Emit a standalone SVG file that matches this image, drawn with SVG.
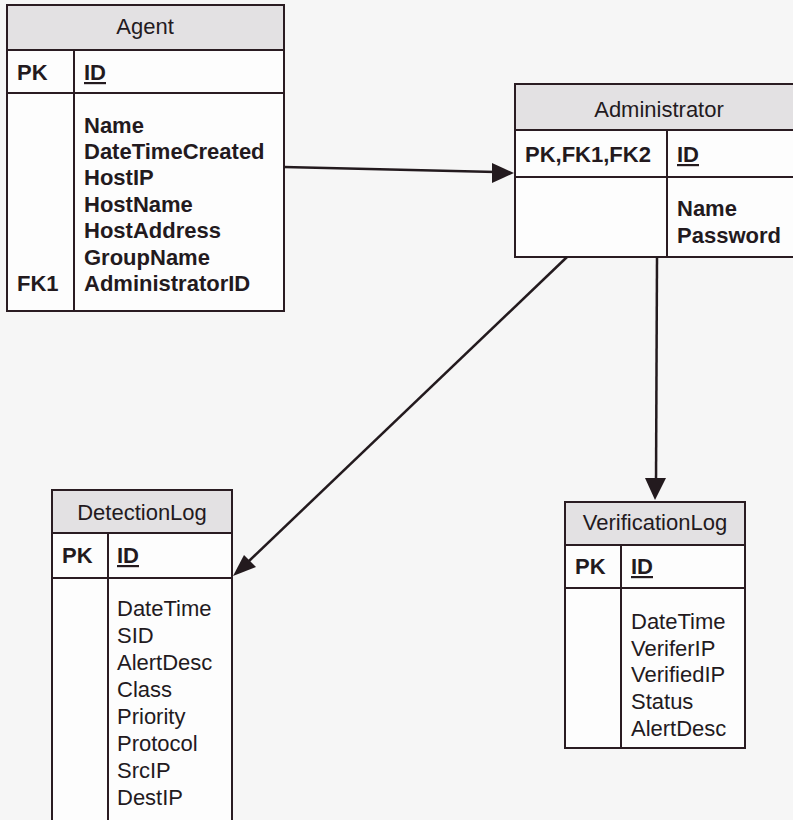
<svg xmlns="http://www.w3.org/2000/svg" width="793" height="820" viewBox="0 0 793 820">
  <style>
    .box { fill: #fdfdfd; stroke: #2a1c22; stroke-width: 2; }
    .head { fill: #e3e1e3; stroke: #2a1c22; stroke-width: 2; }
    .rule { stroke: #2a1c22; stroke-width: 2; fill: none; }
    .title { font-family: "Liberation Sans", Arial, sans-serif; font-size: 22px; fill: #231a1e; text-anchor: middle; }
    .key { font-family: "Liberation Sans", Arial, sans-serif; font-size: 22px; font-weight: bold; fill: #231a1e; }
    .fb { font-family: "Liberation Sans", Arial, sans-serif; font-size: 22px; font-weight: bold; fill: #231a1e; }
    .fr { font-family: "Liberation Sans", Arial, sans-serif; font-size: 22px; fill: #231a1e; }
    .conn { stroke: #231a1e; stroke-width: 2.5; fill: none; }
    .tip { fill: #231a1e; }
  </style>
  <rect width="793" height="820" fill="#f6f6f6"/>

  <!-- Agent table -->
  <g id="agent">
    <rect class="box" x="7" y="5" width="277" height="306"/>
    <rect class="head" x="7" y="5" width="277" height="45"/>
    <line class="rule" x1="7" y1="93" x2="284" y2="93"/>
    <line class="rule" x1="74" y1="50" x2="74" y2="311"/>
    <text class="title" x="145" y="34">Agent</text>
    <text class="key" x="17" y="80">PK</text>
    <text class="key" x="84" y="80" text-decoration="underline">ID</text>
    <text class="fb" x="84" y="133">Name</text>
    <text class="fb" x="84" y="159">DateTimeCreated</text>
    <text class="fb" x="84" y="185">HostIP</text>
    <text class="fb" x="84" y="212">HostName</text>
    <text class="fb" x="84" y="238">HostAddress</text>
    <text class="fb" x="84" y="265">GroupName</text>
    <text class="key" x="17" y="291">FK1</text>
    <text class="fb" x="84" y="291">AdministratorID</text>
  </g>

  <!-- Administrator table -->
  <g id="administrator">
    <rect class="box" x="515" y="84" width="290" height="173"/>
    <rect class="head" x="515" y="84" width="290" height="46"/>
    <line class="rule" x1="515" y1="177" x2="805" y2="177"/>
    <line class="rule" x1="667" y1="130" x2="667" y2="257"/>
    <text class="title" x="659" y="117">Administrator</text>
    <text class="key" x="525" y="162">PK,FK1,FK2</text>
    <text class="key" x="677" y="162" text-decoration="underline">ID</text>
    <text class="fb" x="677" y="216">Name</text>
    <text class="fb" x="677" y="243">Password</text>
  </g>

  <!-- DetectionLog table -->
  <g id="detectionlog">
    <rect class="box" x="52" y="490" width="180" height="340"/>
    <rect class="head" x="52" y="490" width="180" height="43"/>
    <line class="rule" x1="52" y1="578" x2="232" y2="578"/>
    <line class="rule" x1="108" y1="533" x2="108" y2="830"/>
    <text class="title" x="142" y="520">DetectionLog</text>
    <text class="key" x="62" y="563">PK</text>
    <text class="key" x="117" y="563" text-decoration="underline">ID</text>
    <text class="fr" x="117" y="616">DateTime</text>
    <text class="fr" x="117" y="643">SID</text>
    <text class="fr" x="117" y="670">AlertDesc</text>
    <text class="fr" x="117" y="697">Class</text>
    <text class="fr" x="117" y="724">Priority</text>
    <text class="fr" x="117" y="751">Protocol</text>
    <text class="fr" x="117" y="778">SrcIP</text>
    <text class="fr" x="117" y="805">DestIP</text>
  </g>

  <!-- VerificationLog table -->
  <g id="verificationlog">
    <rect class="box" x="565" y="502" width="180" height="246"/>
    <rect class="head" x="565" y="502" width="180" height="43"/>
    <line class="rule" x1="565" y1="588" x2="745" y2="588"/>
    <line class="rule" x1="621" y1="545" x2="621" y2="748"/>
    <text class="title" x="655" y="530">VerificationLog</text>
    <text class="key" x="575" y="574">PK</text>
    <text class="key" x="631" y="574" text-decoration="underline">ID</text>
    <text class="fr" x="631" y="629">DateTime</text>
    <text class="fr" x="631" y="656">VeriferIP</text>
    <text class="fr" x="631" y="682">VerifiedIP</text>
    <text class="fr" x="631" y="709">Status</text>
    <text class="fr" x="631" y="736">AlertDesc</text>
  </g>

  <!-- Relationships: line plus filled arrowhead -->
  <g id="connectors">
    <line class="conn" x1="284" y1="167" x2="496" y2="172"/>
    <path class="tip" d="M514,173 L492,163 L492,183 z"/>
    <line class="conn" x1="567" y1="257" x2="248" y2="562"/>
    <path class="tip" d="M233,576 L244,555 L256,567 z"/>
    <line class="conn" x1="657" y1="257" x2="656" y2="482"/>
    <path class="tip" d="M655,500 L645,478 L666,478 z"/>
  </g>
</svg>
